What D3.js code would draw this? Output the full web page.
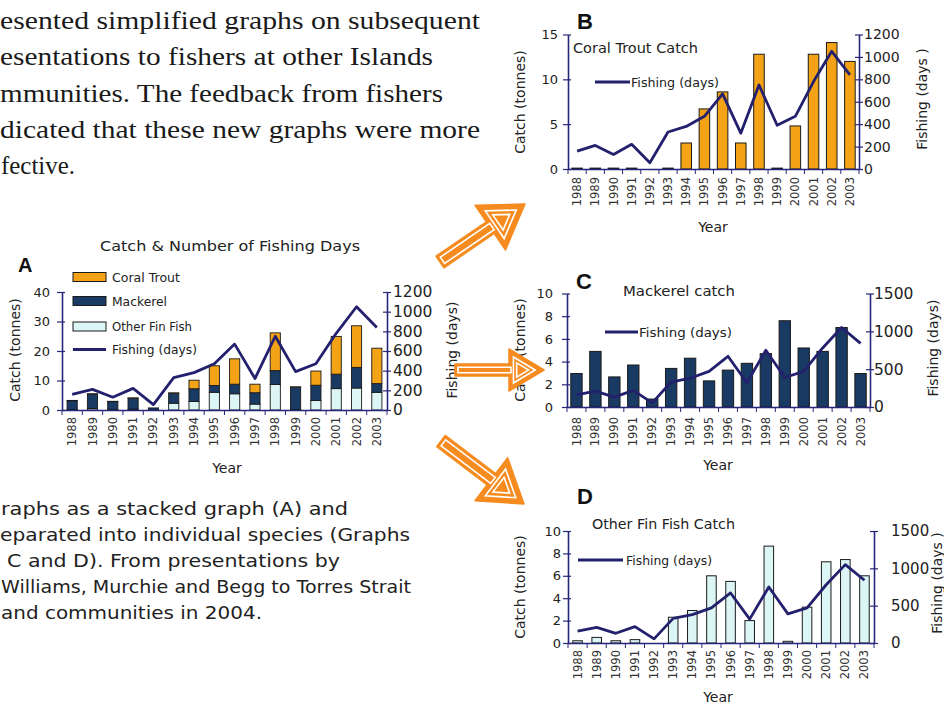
<!DOCTYPE html>
<html>
<head>
<meta charset="utf-8">
<script src="https://cdn.jsdelivr.net/npm/d3@7"></script>
<style>
  body { margin: 0; background: #fff; }
  svg { display: block; }
</style>
</head>
<body>
<svg id="fig" width="944" height="706"></svg>
<script>
// ---- data -------------------------------------------------------------
const years = ["1988","1989","1990","1991","1992","1993","1994","1995",
               "1996","1997","1998","1999","2000","2001","2002","2003"];
const coralTrout   = [0.1, 0.1, 0.1, 0.1, 0, 0.1, 2.9, 6.7, 8.6, 2.9, 12.8, 0.1, 4.8, 12.8, 14.1, 12.0];
const mackerel     = [2.95, 4.9, 2.65, 3.7, 0.7, 3.4, 4.3, 2.3, 3.25, 3.85, 4.7, 7.6, 5.2, 4.9, 7.0, 2.95];
const otherFinFish = [0.2, 0.5, 0.2, 0.3, 0, 2.3, 2.9, 6.0, 5.5, 2.0, 8.65, 0.15, 3.2, 7.25, 7.45, 6.0];
const fishingDays  = [160, 210, 130, 220, 55, 330, 380, 470, 670, 320, 750, 390, 470, 780, 1050, 840];

const catchTicksA = [0, 10, 20, 30, 40];
const catchTicksB = [0, 5, 10, 15];
const catchTicksCD = [0, 2, 4, 6, 8, 10];
const daysTicksAB = [0, 200, 400, 600, 800, 1000, 1200];
const daysTicksCD = [0, 500, 1000, 1500];

const seriesNames = ["Coral Trout", "Mackerel", "Other Fin Fish", "Fishing (days)"];

// ---- styles -----------------------------------------------------------
const COL = {
  coral: "#f5a316",
  mack: "#183a63",
  other: "#dcf5f5",
  line: "#23206e",
  axis: "#26267a",
  text: "#222",
  arrow: "#f68b1f"
};
const SANS = "'DejaVu Sans', Verdana, sans-serif";
const plain = d3.format("d");

const svg = d3.select("#fig");

function fit(sel, w) {
  return sel.attr("textLength", w).attr("lengthAdjust", "spacingAndGlyphs");
}

// ---- one combined bar + line chart -------------------------------------
function drawPanel(p) {
  const g = svg.append("g");
  const x = d3.scaleBand().domain(years).range([p.x0, p.x1])
    .paddingInner(p.pad).paddingOuter(p.pad / 2);
  const step = x.step();
  const cx = d => x(d) + x.bandwidth() / 2;
  const yL = d3.scaleLinear().domain([0, p.lMax]).range([p.yBase, p.yTop]);
  const yR = d3.scaleLinear().domain([0, p.rMax]).range([p.yBase, p.yTop]);

  // bars
  if (p.stacked) {
    const rows = years.map((yr, i) => ({
      year: yr, other: otherFinFish[i], mackerel: mackerel[i], coral: coralTrout[i]
    }));
    const keys = ["other", "mackerel", "coral"];
    const fills = { other: COL.other, mackerel: COL.mack, coral: COL.coral };
    const stack = d3.stack().keys(keys)(rows);
    g.selectAll("g.layer").data(stack).join("g")
      .attr("fill", d => fills[d.key])
      .selectAll("rect").data(d => d.map(v => ({ v, key: d.key }))).join("rect")
      .attr("x", d => x(d.v.data.year))
      .attr("width", x.bandwidth())
      .attr("y", d => yL(d.v[1]))
      .attr("height", d => Math.max(0, yL(d.v[0]) - yL(d.v[1])))
      .attr("stroke", "#1a1a1a").attr("stroke-width", 0.9);
  } else {
    g.selectAll("rect.bar").data(p.values.map((v, i) => ({ v, year: years[i] }))).join("rect")
      .attr("class", "bar")
      .attr("x", d => x(d.year))
      .attr("width", x.bandwidth())
      .attr("y", d => yL(d.v))
      .attr("height", d => yL(0) - yL(d.v))
      .attr("fill", p.fill)
      .attr("stroke", "#1a1a1a").attr("stroke-width", 1);
  }

  // left axis
  const gl = g.append("g").attr("transform", `translate(${p.x0},0)`)
    .call(d3.axisLeft(yL).tickValues(p.lTicks).tickFormat(plain)
      .tickSize(5).tickSizeOuter(0).tickPadding(p.lOff - 5));
  gl.select(".domain").attr("stroke", COL.axis).attr("stroke-width", 1.6);
  gl.selectAll(".tick line").attr("x1", 3).attr("stroke", COL.axis).attr("stroke-width", 1.2);
  gl.selectAll(".tick text").attr("font-family", SANS).attr("font-size", p.lFont).attr("fill", COL.text);

  // right axis
  const gr = g.append("g").attr("transform", `translate(${p.x1},0)`)
    .call(d3.axisRight(yR).tickValues(p.rTicks).tickFormat(plain)
      .tickSize(4).tickSizeOuter(0).tickPadding(p.rOff - 4));
  gr.select(".domain").attr("stroke", COL.axis).attr("stroke-width", 1.6);
  gr.selectAll(".tick line").attr("x1", -4).attr("stroke", COL.axis).attr("stroke-width", 1.2);
  gr.selectAll(".tick text").attr("font-family", SANS).attr("font-size", p.rFont).attr("fill", COL.text);

  // bottom axis with rotated year labels
  const gb = g.append("g").attr("transform", `translate(0,${p.yBase})`)
    .call(d3.axisBottom(x).tickSize(0).tickSizeOuter(0));
  gb.select(".domain").attr("stroke", COL.axis).attr("stroke-width", 1.4);
  gb.selectAll(".tick text")
    .attr("transform", "rotate(-90)")
    .attr("text-anchor", "end")
    .attr("x", -p.xOff).attr("y", 0).attr("dy", "0.35em")
    .attr("font-family", SANS).attr("font-size", 11.5).attr("fill", "#333");
  gb.selectAll("line.bound").data(d3.range(years.length + 1)).join("line")
    .attr("class", "bound")
    .attr("x1", i => p.x0 + i * step).attr("x2", i => p.x0 + i * step)
    .attr("y1", 0).attr("y2", 5)
    .attr("stroke", COL.axis).attr("stroke-width", 1);

  // fishing effort line
  g.append("path").datum(fishingDays)
    .attr("fill", "none").attr("stroke", COL.line).attr("stroke-width", 2.8)
    .attr("stroke-linejoin", "round")
    .attr("d", d3.line().x((d, i) => cx(years[i])).y(d => yR(d)));

  // axis titles
  g.append("text")
    .attr("transform", `translate(${p.lLab[0]},${p.lLab[1]}) rotate(-90)`)
    .attr("text-anchor", "middle").attr("dominant-baseline", "central")
    .attr("font-family", SANS).attr("font-size", 14).attr("fill", COL.text)
    .text("Catch (tonnes)");
  g.append("text")
    .attr("transform", `translate(${p.rLab[0]},${p.rLab[1]}) rotate(-90)`)
    .attr("text-anchor", "middle").attr("dominant-baseline", "central")
    .attr("font-family", SANS).attr("font-size", 14).attr("fill", COL.text)
    .text(p.rLabText);
  g.append("text")
    .attr("x", p.yearLab[0]).attr("y", p.yearLab[1])
    .attr("text-anchor", "middle").attr("dominant-baseline", "central")
    .attr("font-family", SANS).attr("font-size", 14).attr("fill", COL.text)
    .text("Year");

  // chart title
  fit(g.append("text")
    .attr("x", p.title.x).attr("y", p.title.y).attr("dominant-baseline", "central")
    .attr("font-family", SANS).attr("font-size", 14).attr("fill", COL.text)
    .text(p.title.text), p.title.w);

  // panel letter
  g.append("text")
    .attr("x", p.letter.x).attr("y", p.letter.y).attr("dominant-baseline", "central")
    .attr("font-family", "'Liberation Sans', Arial, sans-serif").attr("font-weight", "bold")
    .attr("font-size", p.letter.size).attr("fill", "#111")
    .text(p.letter.text);

  // legend for the single-species charts
  if (p.legend) {
    const L = p.legend;
    g.append("line").attr("x1", L.x0).attr("x2", L.x1).attr("y1", L.y).attr("y2", L.y)
      .attr("stroke", COL.line).attr("stroke-width", 2.8);
    fit(g.append("text").attr("x", L.tx).attr("y", L.y).attr("dominant-baseline", "central")
      .attr("font-family", SANS).attr("font-size", 12.5).attr("fill", COL.text)
      .text(seriesNames[3]), L.tw);
  }
  return g;
}

// ---- panel A: stacked catch by species --------------------------------
const gA = drawPanel({
  stacked: true, x0: 62, x1: 387, yBase: 410, yTop: 292, pad: 0.5,
  lMax: 40, lTicks: catchTicksA, rMax: 1200, rTicks: daysTicksAB,
  lOff: 12, rOff: 6, lFont: 13, rFont: 15.5, xOff: 7,
  lLab: [15, 350], rLab: [452, 350], rLabText: "Fishing (days)", yearLab: [227, 468],
  title: { text: "Catch & Number of Fishing Days", x: 100, y: 246, w: 260 },
  letter: { text: "A", x: 18, y: 265, size: 20 }
});
// legend A
const legA = [
  { name: seriesNames[0], fill: COL.coral, y: 277, w: 68 },
  { name: seriesNames[1], fill: COL.mack, y: 301, w: 55 },
  { name: seriesNames[2], fill: COL.other, y: 326.5, w: 80 }
];
gA.selectAll("rect.leg").data(legA).join("rect").attr("class", "leg")
  .attr("x", 73).attr("width", 33).attr("y", d => d.y - 4.5).attr("height", 9)
  .attr("fill", d => d.fill).attr("stroke", "#1a1a1a").attr("stroke-width", 1);
gA.selectAll("text.leg").data(legA).join("text").attr("class", "leg")
  .attr("x", 112).attr("y", d => d.y).attr("dominant-baseline", "central")
  .attr("font-family", SANS).attr("font-size", 12.5).attr("fill", COL.text)
  .text(d => d.name)
  .each(function (d) { fit(d3.select(this), d.w); });
gA.append("line").attr("x1", 73).attr("x2", 106).attr("y1", 349.5).attr("y2", 349.5)
  .attr("stroke", COL.line).attr("stroke-width", 2.8);
fit(gA.append("text").attr("x", 112).attr("y", 349.5).attr("dominant-baseline", "central")
  .attr("font-family", SANS).attr("font-size", 12.5).attr("fill", COL.text)
  .text(seriesNames[3]), 85);

// ---- panel B: coral trout ----------------------------------------------
drawPanel({
  values: coralTrout, fill: COL.coral,
  x0: 568, x1: 859, yBase: 169, yTop: 34.5, pad: 0.42,
  lMax: 15, lTicks: catchTicksB, rMax: 1200, rTicks: daysTicksAB,
  lOff: 10, rOff: 5, lFont: 13, rFont: 14, xOff: 8,
  lLab: [520, 102], rLab: [922, 99], rLabText: "Fishing (days )", yearLab: [713, 227],
  title: { text: "Coral Trout Catch", x: 573, y: 48, w: 125 },
  letter: { text: "B", x: 577, y: 21, size: 22 },
  legend: { x0: 595, x1: 630, y: 82, tx: 631, tw: 88 }
});

// ---- panel C: mackerel -------------------------------------------------
drawPanel({
  values: mackerel, fill: COL.mack,
  x0: 567, x1: 870, yBase: 407, yTop: 293.5, pad: 0.4,
  lMax: 10, lTicks: catchTicksCD, rMax: 1500, rTicks: daysTicksCD,
  lOff: 14, rOff: 4, lFont: 13, rFont: 15.5, xOff: 10,
  lLab: [520, 350], rLab: [933, 348], rLabText: "Fishing (days)", yearLab: [718, 465],
  title: { text: "Mackerel catch", x: 623, y: 291, w: 112 },
  letter: { text: "C", x: 576, y: 281, size: 22 },
  legend: { x0: 605, x1: 638, y: 332, tx: 639, tw: 93 }
});

// ---- panel D: other fin fish ------------------------------------------
drawPanel({
  values: otherFinFish, fill: COL.other,
  x0: 568, x1: 874, yBase: 643, yTop: 531, pad: 0.5,
  lMax: 10, lTicks: catchTicksCD, rMax: 1500, rTicks: daysTicksCD,
  lOff: 7, rOff: 17, lFont: 13, rFont: 15, xOff: 7,
  lLab: [520, 587], rLab: [937, 583], rLabText: "Fishing (days )", yearLab: [718, 697],
  title: { text: "Other Fin Fish Catch", x: 592, y: 524, w: 143 },
  letter: { text: "D", x: 577, y: 496, size: 22 },
  legend: { x0: 578, x1: 623, y: 560, tx: 626, tw: 86 }
});

// ---- arrows linking the stacked chart to the species charts -------------
function arrow(tail, tip, sw, hl, hw) {
  const dx = tip[0] - tail[0], dy = tip[1] - tail[1], L = Math.hypot(dx, dy);
  const ux = dx / L, uy = dy / L, nx = -uy, ny = ux;
  const at = (s, n) => [tail[0] + ux * s + nx * n, tail[1] + uy * s + ny * n];
  const b = L - hl;
  const outer = [at(0, -sw / 2), at(b, -sw / 2), at(b, -hw / 2), at(L, 0),
                 at(b, hw / 2), at(b, sw / 2), at(0, sw / 2)];
  const g = svg.append("g");
  g.append("path").attr("d", d3.line()(outer) + "Z")
    .attr("fill", COL.arrow).attr("stroke", COL.arrow).attr("stroke-width", 1.5)
    .attr("stroke-linejoin", "round");
  const shaft = [at(3, -sw / 2 + 3.2), at(b + 2, -sw / 2 + 3.2), at(b + 2, sw / 2 - 3.2), at(3, sw / 2 - 3.2)];
  g.append("path").attr("d", d3.line()(shaft) + "Z")
    .attr("fill", "none").attr("stroke", "#fff").attr("stroke-width", 1.6);
  const tri = [at(b, -hw / 2), at(L, 0), at(b, hw / 2)];
  const c = [(tri[0][0] + tri[1][0] + tri[2][0]) / 3, (tri[0][1] + tri[1][1] + tri[2][1]) / 3];
  [0.62, 0.34].forEach(k => {
    const t = tri.map(q => [c[0] + (q[0] - c[0]) * k, c[1] + (q[1] - c[1]) * k]);
    g.append("path").attr("d", d3.line()(t) + "Z")
      .attr("fill", "none").attr("stroke", "#fff").attr("stroke-width", 1.6);
  });
}
arrow([440, 262], [525, 204], 14, 42, 54);
arrow([455, 370], [544, 370], 12, 35, 42);
arrow([441, 441], [524, 504], 14, 41, 54);

// ---- surrounding report text -------------------------------------------
const bodyTop = [
  { t: "esented simplified graphs on subsequent", x: 0, y: 28.5, w: 480 },
  { t: "esentations to fishers at other Islands", x: 0, y: 65, w: 433 },
  { t: "mmunities. The feedback from fishers", x: 0, y: 101.5, w: 443 },
  { t: "dicated that these new graphs were more", x: 0, y: 138, w: 480 },
  { t: "fective.", x: 1, y: 174, w: 74 }
];
svg.selectAll("text.body").data(bodyTop).join("text").attr("class", "body")
  .attr("x", d => d.x).attr("y", d => d.y)
  .attr("font-family", "'Liberation Serif', 'DejaVu Serif', serif")
  .attr("font-size", 26).attr("fill", "#1a1a1a")
  .text(d => d.t)
  .each(function (d) { fit(d3.select(this), d.w); });

const caption = [
  { t: "raphs as a stacked graph (A) and", x: 1, y: 515, w: 347 },
  { t: "eparated into individual species (Graphs", x: 0, y: 541, w: 410 },
  { t: "C and D). From presentations by", x: 7, y: 567, w: 333 },
  { t: "Williams, Murchie and Begg to Torres Strait", x: 1, y: 593, w: 410 },
  { t: "and communities in 2004.", x: 1, y: 619, w: 261 }
];
svg.selectAll("text.cap").data(caption).join("text").attr("class", "cap")
  .attr("x", d => d.x).attr("y", d => d.y)
  .attr("font-family", SANS).attr("font-size", 18).attr("fill", "#222")
  .text(d => d.t)
  .each(function (d) { fit(d3.select(this), d.w); });
</script>
</body>
</html>
